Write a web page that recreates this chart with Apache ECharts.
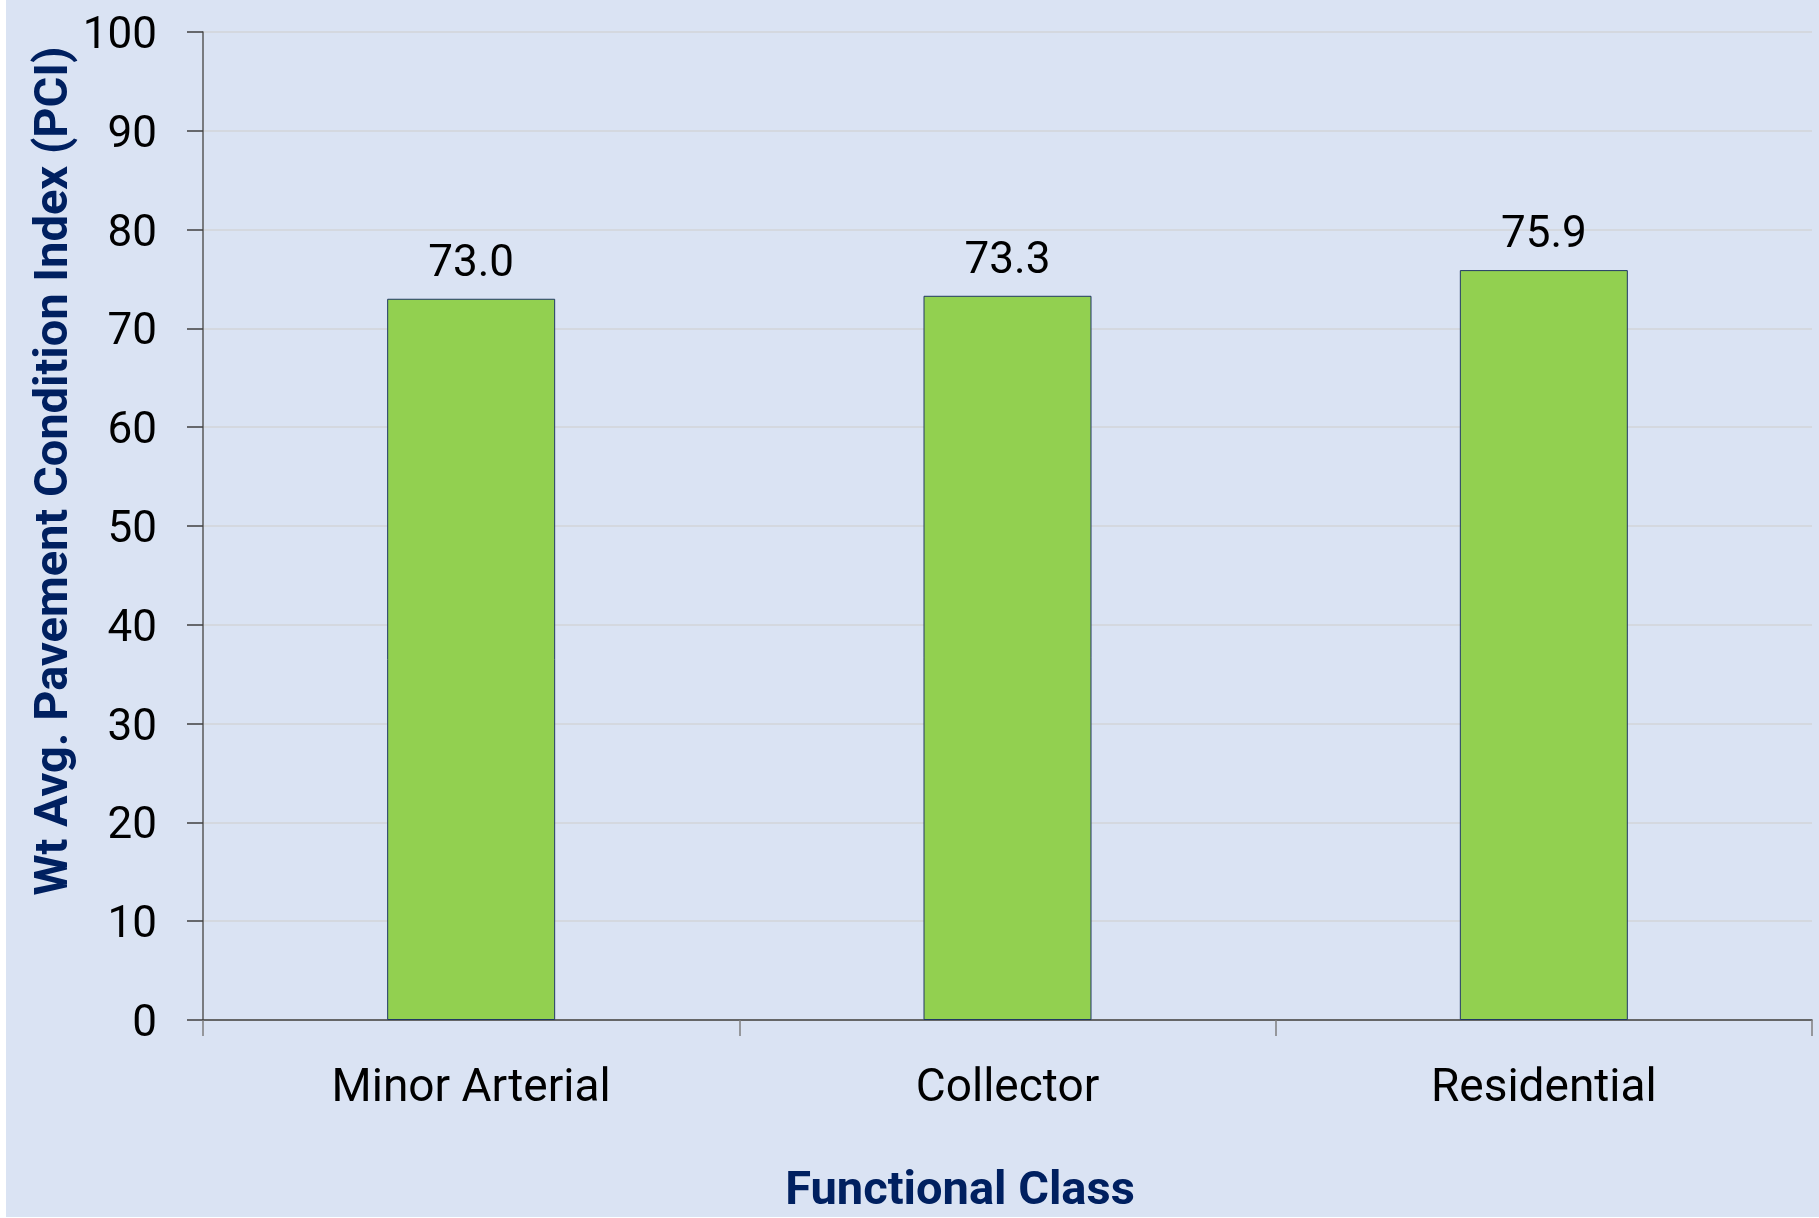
<!DOCTYPE html>
<html>
<head>
<meta charset="utf-8">
<script src="https://cdn.jsdelivr.net/npm/echarts@6/dist/echarts.min.js"></script>
<style>
  html, body { margin: 0; padding: 0; background: #fff; }
  #chart { position: absolute; left: 6px; top: 0; width: 1813px; height: 1217px; background: #DAE3F3; }
</style>
</head>
<body>
<div id="chart"></div>
<script>
// data
const categories = ['Minor Arterial', 'Collector', 'Residential']
const pciValues = [73.0, 73.3, 75.9]
const yTicks = { min: 0, max: 100, interval: 10 }

const font = 'Roboto, "Noto Sans", sans-serif'
const navy = '#002060'

const chart = echarts.init(document.getElementById('chart'))
chart.setOption({
  backgroundColor: '#DAE3F3',
  animation: false,
  grid: {
    left: 197,
    right: 7,
    top: 32,
    bottom: 197
  },
  xAxis: {
    type: 'category',
    data: categories,
    axisLine: { lineStyle: { color: '#404040', width: 1.5 } },
    axisTick: { show: true, length: 16, lineStyle: { color: '#7f7f7f', width: 1.5 } },
    axisLabel: {
      margin: 46,
      fontSize: 46,
      fontFamily: font,
      color: '#000'
    }
  },
  yAxis: {
    type: 'value',
    min: yTicks.min,
    max: yTicks.max,
    interval: yTicks.interval,
    axisLine: { show: true, lineStyle: { color: '#595959', width: 1.5 } },
    axisTick: { show: true, length: 16, lineStyle: { color: '#404040', width: 1.5 } },
    axisLabel: {
      margin: 46,
      formatter: v => '{t|' + v + '}',
      rich: {
        t: {
          fontSize: 44,
          fontFamily: font,
          color: '#000',
          padding: [10, 0, 0, 0]
        }
      }
    },
    splitLine: { lineStyle: { color: '#D4D8DF', width: 2 } }
  },
  graphic: [
    {
      type: 'text',
      x: 49,
      y: 471,
      rotation: Math.PI / 2,
      style: {
        text: 'Wt Avg. Pavement Condition Index (PCI)',
        fontSize: 47,
        fontWeight: 'bold',
        fontFamily: font,
        fill: navy,
        align: 'center',
        verticalAlign: 'middle'
      }
    },
    {
      type: 'text',
      x: 954,
      y: 1192,
      style: {
        text: 'Functional Class',
        fontSize: 47,
        fontWeight: 'bold',
        fontFamily: font,
        fill: navy,
        align: 'center',
        verticalAlign: 'middle'
      }
    }
  ],
  series: [{
    type: 'bar',
    data: pciValues,
    barWidth: 168,
    itemStyle: {
      color: '#92D050',
      borderColor: '#203864',
      borderWidth: 1
    },
    label: {
      show: true,
      position: 'top',
      distance: 12,
      fontSize: 44,
      fontFamily: font,
      color: '#000',
      formatter: p => p.value.toFixed(1)
    }
  }]
})
</script>
</body>
</html>
